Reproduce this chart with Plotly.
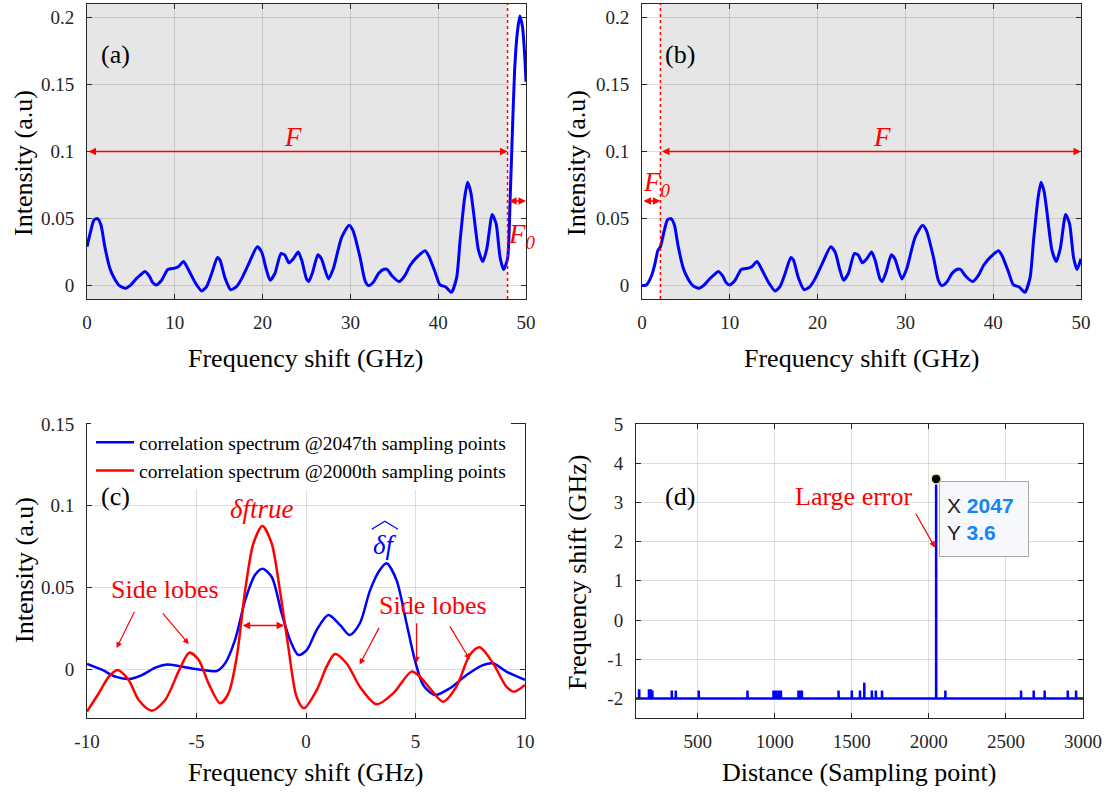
import plotly.graph_objects as go

# ---------------- data ----------------
# Panel (a)/(b): measured spectrum (GHz, a.u.)
spec_freq = [0.0, 0.4, 0.8, 1.2, 1.6, 2.0, 2.6, 3.15, 3.7, 4.4, 4.9, 5.6, 6.1, 6.6, 7.1, 7.45,
             7.9, 8.5, 9.2, 10.0, 10.4, 11.0, 11.5, 12.3, 13.05, 13.6, 14.2, 14.85, 15.15, 15.7,
             16.35, 17.0, 17.6, 18.4, 19.4, 19.9, 20.4, 20.85, 21.4, 22.1, 22.55, 23.0, 23.5,
             24.05, 24.45, 25.0, 25.25, 25.7, 26.3, 26.7, 27.5, 28.05, 29.0, 29.85, 30.3, 31.1,
             31.65, 32.05, 32.6, 33.2, 33.75, 34.2, 34.7, 35.55, 36.2, 36.8, 37.55, 38.5, 38.9,
             39.65, 40.2, 40.85, 41.5, 42.1, 42.5, 43.0, 43.35, 43.7, 44.0, 44.6, 45.1, 45.55,
             46.15, 46.6, 47.05, 47.45, 47.9]
spec_int = [0.029, 0.040, 0.049, 0.050, 0.045, 0.030, 0.013, 0.005, 0.000, -0.002, 0.000, 0.005,
            0.008, 0.0105, 0.007, 0.0025, 0.0005, 0.004, 0.012, 0.013, 0.014, 0.018, 0.0125,
            0.0025, -0.004, -0.001, 0.009, 0.021, 0.019, 0.006, -0.003, -0.001, 0.005, 0.016,
            0.029, 0.025, 0.0125, 0.004, 0.009, 0.024, 0.0225, 0.017, 0.020, 0.025, 0.019, 0.005,
            0.003, 0.010, 0.023, 0.020, 0.005, 0.0125, 0.036, 0.045, 0.041, 0.021, 0.004, 0.000,
            0.0025, 0.009, 0.012, 0.012, 0.0075, 0.003, 0.0075, 0.015, 0.021, 0.026, 0.0225,
            0.010, 0.0005, -0.001, -0.005, 0.006, 0.034, 0.065, 0.077, 0.070, 0.056, 0.026, 0.018,
            0.028, 0.053, 0.046, 0.021, 0.012, 0.020]
a_tail_freq = [48.2, 48.4, 48.7, 49.0, 49.3, 49.6, 49.85, 50.0]
a_tail_int = [0.066, 0.105, 0.160, 0.188, 0.201, 0.193, 0.172, 0.152]
b_head_freq = [0.0, 0.5, 1.1, 1.5, 1.8]
b_head_int = [0.0, 0.0005, 0.0075, 0.017, 0.026]
F0 = 2.1          # GHz, width of the wrapped part
F_MAX = 50.0      # GHz
F_arrow_level = 0.1
F0_arrow_level = 0.063

# Panel (c): correlation spectra
c_blue_freq = [-10, -9.3, -8.7, -8.1, -7.49, -6.88, -6.35, -5.82, -5.06, -4.45, -4.07, -3.69,
               -3.24, -2.78, -2.33, -1.99, -1.57, -1.11, -0.73, -0.35, 0.03, 0.49, 1.02, 1.55,
               2.0, 2.46, 2.92, 3.37, 3.68, 4.13, 4.59, 4.97, 5.35, 5.88, 6.57, 7.33, 8.08,
               8.54, 9.15, 10]
c_blue_int = [0.0031, -0.0006, -0.0047, -0.0061, -0.0037, 0.0008, 0.0027, 0.0018, 0.0, -0.001,
              -0.0012, 0.0035, 0.0178, 0.042, 0.0576, 0.0614, 0.0565, 0.034, 0.0178, 0.0086,
              0.0116, 0.0239, 0.033, 0.027, 0.0208, 0.028, 0.048, 0.0606, 0.0647, 0.0545, 0.028,
              0.0055, -0.0098, -0.0159, -0.0118, -0.0037, 0.0024, 0.0035, -0.0016, -0.0067]
c_red_freq = [-10, -9.47, -9.0, -8.6, -8.1, -7.64, -7.04, -6.43, -5.82, -5.33, -4.9, -4.45,
              -3.92, -3.54, -3.16, -2.78, -2.4, -1.99, -1.57, -1.19, -0.81, -0.43, -0.1, 0.49,
              0.94, 1.32, 1.85, 2.46, 3.22, 3.98, 4.82, 5.2, 5.73, 6.26, 6.87, 7.48, 7.93, 8.54,
              9.15, 9.5, 10]
c_red_int = [-0.026, -0.015, -0.0047, -0.0006, -0.0067, -0.019, -0.0255, -0.019, -0.0016, 0.010,
             0.0055, -0.0088, -0.021, -0.0149, 0.0076, 0.048, 0.077, 0.0876, 0.077, 0.048, 0.0137,
             -0.017, -0.024, -0.0129, 0.0014, 0.0092, 0.0035, -0.0108, -0.0216, -0.0149, -0.0016,
             -0.0047, -0.0129, -0.02, -0.0108, 0.0086, 0.0133, 0.0035, -0.0108, -0.0139, -0.0098]
c_names = ["correlation spectrum @2047th sampling points",
           "correlation spectrum @2000th sampling points"]

# Panel (d): estimated frequency shift vs distance
d_start, d_end = 100, 3000
d_base = -2.0
d_spike_pos = [120, 184, 195, 206, 332, 358, 507, 823, 992, 1007, 1024, 1040, 1154, 1165, 1176,
               1414, 1500, 1553, 1581, 1630, 1656, 1696, 2047, 2107, 2598, 2680, 2751, 2901, 2955]
d_spike_val = [-1.8, -1.8, -1.8, -1.8, -1.8, -1.8, -1.8, -1.8, -1.8, -1.8, -1.8, -1.8, -1.8,
               -1.8, -1.8, -1.8, -1.8, -1.8, -1.6, -1.8, -1.8, -1.8, 3.6, -1.8, -1.8, -1.8,
               -1.8, -1.8, -1.8]
d_tip_x, d_tip_y = 2047, 3.6

# ticks
ab_xticks = [0, 10, 20, 30, 40, 50]
ab_xlabels = ["0", "10", "20", "30", "40", "50"]
ab_yticks = [0, 0.05, 0.1, 0.15, 0.2]
ab_ylabels = ["0", "0.05", "0.1", "0.15", "0.2"]
c_xticks = [-10, -5, 0, 5, 10]
c_xlabels = ["-10", "-5", "0", "5", "10"]
c_yticks = [0, 0.05, 0.1, 0.15]
c_ylabels = ["0", "0.05", "0.1", "0.15"]
d_xticks = [500, 1000, 1500, 2000, 2500, 3000]
d_xlabels = ["500", "1000", "1500", "2000", "2500", "3000"]
d_yticks = [-2, -1, 0, 1, 2, 3, 4, 5]
d_ylabels = ["-2", "-1", "0", "1", "2", "3", "4", "5"]

# ---------------- styling ----------------
SERIF = "Liberation Serif"
SANS = "Liberation Sans"
AXC = "#262626"
BLUE = "#0000ff"
RED = "#ff0000"
W, H = 1120, 792
TITLE_SIZE = 26
LABEL_SIZE = 26


def px(x):
    return x / W


def py(y):
    return 1 - y / H


fig = go.Figure()

# (a)
fig.add_trace(go.Scatter(x=spec_freq + a_tail_freq, y=spec_int + a_tail_int, mode="lines",
                         line=dict(color=BLUE, width=3, shape="spline", smoothing=0.6),
                         showlegend=False, xaxis="x", yaxis="y"))
# (b) : same spectrum shifted by F0
b_x = b_head_freq + [f + F0 for f in spec_freq]
b_y = b_head_int + spec_int
fig.add_trace(go.Scatter(x=b_x, y=b_y, mode="lines",
                         line=dict(color=BLUE, width=3, shape="spline", smoothing=0.6),
                         showlegend=False, xaxis="x2", yaxis="y2"))
# (c)
fig.add_trace(go.Scatter(x=c_blue_freq, y=c_blue_int, mode="lines", name=c_names[0],
                         line=dict(color=BLUE, width=2.5, shape="spline", smoothing=0.8),
                         xaxis="x3", yaxis="y3"))
fig.add_trace(go.Scatter(x=c_red_freq, y=c_red_int, mode="lines", name=c_names[1],
                         line=dict(color=RED, width=2.5, shape="spline", smoothing=0.8),
                         xaxis="x3", yaxis="y3"))
# (d)
dx, dy = [d_start], [d_base]
for p, v in zip(d_spike_pos, d_spike_val):
    dx += [p, p, p + 1, p + 1]
    dy += [d_base, v, v, d_base]
dx.append(d_end)
dy.append(d_base)
fig.add_trace(go.Scatter(x=dx, y=dy, mode="lines", line=dict(color=BLUE, width=2.5),
                         showlegend=False, xaxis="x4", yaxis="y4"))
fig.add_trace(go.Scatter(x=[d_tip_x], y=[d_tip_y], mode="markers",
                         marker=dict(color="black", size=10, line=dict(color="#f3eeb0", width=1.5)),
                         showlegend=False, xaxis="x4", yaxis="y4"))

# axes
tickfont = dict(family=SERIF, size=19, color=AXC)


def axis(domain, rng, tv, tt, anchor, standoff):
    return dict(domain=domain, range=rng, tickvals=tv, ticktext=tt, anchor=anchor,
                automargin=False,
                showline=True, linecolor=AXC, linewidth=1, mirror="ticks",
                ticks="inside", ticklen=5, tickcolor=AXC, tickwidth=1,
                showgrid=True, gridcolor="rgba(0,0,0,0.13)", gridwidth=1, zeroline=False,
                tickfont=tickfont, ticklabelstandoff=standoff)


top_y = [py(299), py(4)]
bot_y = [py(718), py(424)]
fig.update_layout(
    xaxis=axis([px(87), px(526)], [0, 50], ab_xticks, ab_xlabels, "y", 6),
    yaxis=axis(top_y, [-0.01, 0.21], ab_yticks, ab_ylabels, "x", 8),
    xaxis2=axis([px(642), px(1081)], [0, 50], ab_xticks, ab_xlabels, "y2", 6),
    yaxis2=axis(top_y, [-0.01, 0.21], ab_yticks, ab_ylabels, "x2", 8),
    xaxis3=axis([px(87), px(525)], [-10, 10], c_xticks, c_xlabels, "y3", 6),
    yaxis3=axis(bot_y, [-0.03, 0.15], c_yticks, c_ylabels, "x3", 8),
    xaxis4=axis([px(636), px(1083)], [d_start, d_end], d_xticks, d_xlabels, "y4", 6),
    yaxis4=axis(bot_y, [-2.5, 5], d_yticks, d_ylabels, "x4", 8),
)

shapes = []
# gray backgrounds
shapes.append(dict(type="rect", xref="x", yref="y domain", x0=0, x1=F_MAX - F0, y0=0, y1=1,
                   fillcolor="#e6e6e6", line=dict(width=0), layer="below"))
shapes.append(dict(type="rect", xref="x2", yref="y2 domain", x0=F0, x1=F_MAX, y0=0, y1=1,
                   fillcolor="#e6e6e6", line=dict(width=0), layer="below"))
# dotted red boundaries
shapes.append(dict(type="line", xref="x", yref="y domain", x0=F_MAX - F0, x1=F_MAX - F0, y0=0, y1=1,
                   line=dict(color=RED, width=1.5, dash="dot")))
shapes.append(dict(type="line", xref="x2", yref="y2 domain", x0=F0, x1=F0, y0=0, y1=1,
                   line=dict(color=RED, width=1.5, dash="dot")))
# hat over delta-f
shapes.append(dict(type="path", xref="x3", yref="y3",
                   path="M 3.0,0.0855 L 3.6,0.0905 L 4.2,0.0855",
                   line=dict(color=BLUE, width=1.2)))
fig.update_layout(shapes=shapes)

ann = []


def text(x, y, s, size=LABEL_SIZE, color="black", xref="paper", yref="paper", angle=0, **kw):
    d = dict(x=x, y=y, xref=xref, yref=yref, text=s, showarrow=False, textangle=angle,
             xanchor="center", yanchor="middle",
             font=dict(family=SERIF, size=size, color=color))
    d.update(kw)
    ann.append(d)


def arrow(x0, y0, x1, y1, xr, yr, both=False, w=1.5, head=2):
    ann.append(dict(x=x1, y=y1, ax=x0, ay=y0, xref=xr, yref=yr, axref=xr, ayref=yr, text="",
                    showarrow=True, arrowhead=head, startarrowhead=head, arrowsize=1,
                    startarrowsize=1, arrowwidth=w, arrowcolor=RED,
                    arrowside="end+start" if both else "end"))


# axis titles
text(px(306), py(358), "Frequency shift (GHz)", size=TITLE_SIZE)
text(px(861), py(358), "Frequency shift (GHz)", size=TITLE_SIZE)
text(px(306), py(772), "Frequency shift (GHz)", size=TITLE_SIZE)
text(px(859), py(772), "Distance (Sampling point)", size=TITLE_SIZE)
text(px(24), py(163), "Intensity (a.u)", size=TITLE_SIZE, angle=-90)
text(px(577), py(163), "Intensity (a.u)", size=TITLE_SIZE, angle=-90)
text(px(24), py(570), "Intensity (a.u)", size=TITLE_SIZE, angle=-90)
text(px(577), py(572), "Frequency shift (GHz)", size=TITLE_SIZE, angle=-90)
# panel labels
text(px(115), py(55), "(a)")
text(px(680), py(55), "(b)")
text(px(115), py(497), "(c)")
text(px(680), py(496), "(d)")

# (a) annotations
arrow(0, F_arrow_level, F_MAX - F0, F_arrow_level, "x", "y", both=True)
arrow(F_MAX - F0, F0_arrow_level, F_MAX, F0_arrow_level, "x", "y", both=True, head=2)
text(23.5, 0.1107, "<i>F</i>", size=27, color=RED, xref="x", yref="y")
text(49.5, 0.037, "<i>F<sub>0</sub></i>", size=27, color=RED, xref="x", yref="y")
# (b) annotations
arrow(F0, F_arrow_level, F_MAX, F_arrow_level, "x2", "y2", both=True)
arrow(0, F0_arrow_level, F0, F0_arrow_level, "x2", "y2", both=True)
text(27.3, 0.1107, "<i>F</i>", size=27, color=RED, xref="x2", yref="y2")
text(1.7, 0.076, "<i>F<sub>0</sub></i>", size=27, color=RED, xref="x2", yref="y2")

# (c) annotations
text(-2.0, 0.098, "<i>δftrue</i>", size=27, color=RED, xref="x3", yref="y3")
text(3.6, 0.076, "<i>δf</i>", size=27, color=BLUE, xref="x3", yref="y3")
arrow(-2.96, 0.0266, -1.0, 0.0266, "x3", "y3", both=True, w=1.5)
text(-6.45, 0.0484, "Side lobes", color=RED, xref="x3", yref="y3")
text(5.8, 0.0386, "Side lobes", color=RED, xref="x3", yref="y3")
arrow(-7.8, 0.036, -8.65, 0.0128, "x3", "y3", w=1.2)
arrow(-6.6, 0.035, -5.35, 0.0152, "x3", "y3", w=1.2)
arrow(3.37, 0.0261, 2.45, 0.0027, "x3", "y3", w=1.2)
arrow(5.05, 0.029, 5.05, 0.0037, "x3", "y3", w=1.2)
arrow(6.53, 0.027, 7.48, 0.0058, "x3", "y3", w=1.2)

# (d) annotations
text(1515, 3.15, "Large error", color=RED, xref="x4", yref="y4")
arrow(1910, 2.75, 2040, 1.85, "x4", "y4", w=1.2)
tipc = "#1784f5"
ann.append(dict(x=2063, y=3.535, xref="x4", yref="y4", xanchor="left", yanchor="top",
                showarrow=False, align="left", width=74, height=60, borderpad=7,
                bgcolor="#f7f8fc", bordercolor="#a8a8a8", borderwidth=1,
                text=(f"X <span style='color:{tipc}'><b>{d_tip_x}</b></span><br>"
                      f"Y <span style='color:{tipc}'><b>{d_tip_y}</b></span>"),
                font=dict(family=SANS, size=21, color="#222222")))

fig.update_layout(annotations=ann)

fig.update_layout(
    width=W, height=H, margin=dict(l=0, r=0, t=0, b=0),
    paper_bgcolor="white", plot_bgcolor="white",
    legend=dict(x=px(91), y=py(423), xanchor="left", yanchor="top", bgcolor="white",
                borderwidth=0, font=dict(family=SERIF, size=19.5, color="black"),
                tracegroupgap=0, itemwidth=38),
)

fig.write_html("out.html", config={"displayModeBar": False},
               post_script="document.body.style.margin='0px';document.body.style.overflow='hidden';")
